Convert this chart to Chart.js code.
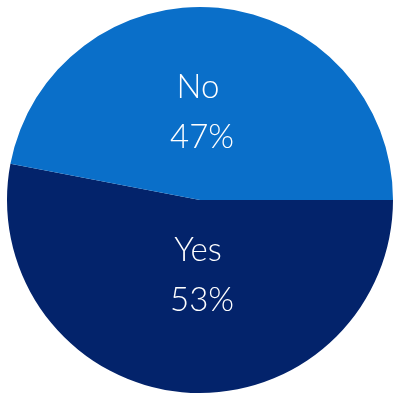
<!DOCTYPE html>
<html>
<head>
<meta charset="utf-8">
<script src="https://cdn.jsdelivr.net/npm/chart.js@4/dist/chart.umd.min.js"></script>
<style>
  html, body { margin: 0; padding: 0; background: #fff; }
  #wrap { width: 400px; height: 400px; }
</style>
</head>
<body>
<div id="wrap"><canvas id="pie"></canvas></div>
<script>
const categories = ['Yes', 'No'];
const shares = [53, 47];
const colors = ['#03236b', '#0a6fc9'];

// draws "Label" and "NN%" inside each slice
const sliceLabels = {
    id: 'sliceLabels',
    afterDatasetsDraw(chart) {
        const ctx = chart.ctx;
        const meta = chart.getDatasetMeta(0);
        ctx.save();
        ctx.fillStyle = '#ffffff';
        ctx.textAlign = 'center';
        ctx.textBaseline = 'middle';
        ctx.font = '300 33px Lato, "Open Sans", sans-serif';
        meta.data.forEach((arc, i) => {
            const mid = (arc.startAngle + arc.endAngle) / 2;
            const cy = arc.y + Math.sin(mid) * arc.outerRadius * 0.425 - 6;
            ctx.fillText(categories[i], arc.x - 2, cy - 25);
            ctx.fillText(shares[i] + '%', arc.x + 2, cy + 25);
        });
        ctx.restore();
    }
};

new Chart(document.getElementById('pie'), {
    type: 'pie',
    data: {
        labels: categories,
        datasets: [{
            data: shares,
            backgroundColor: colors,
            borderWidth: 0
        }]
    },
    options: {
        responsive: true,
        maintainAspectRatio: false,
        animation: false,
        rotation: 90,
        layout: { padding: 7 },
        plugins: {
            legend: { display: false },
            tooltip: { enabled: false }
        }
    },
    plugins: [sliceLabels]
});
</script>
</body>
</html>
